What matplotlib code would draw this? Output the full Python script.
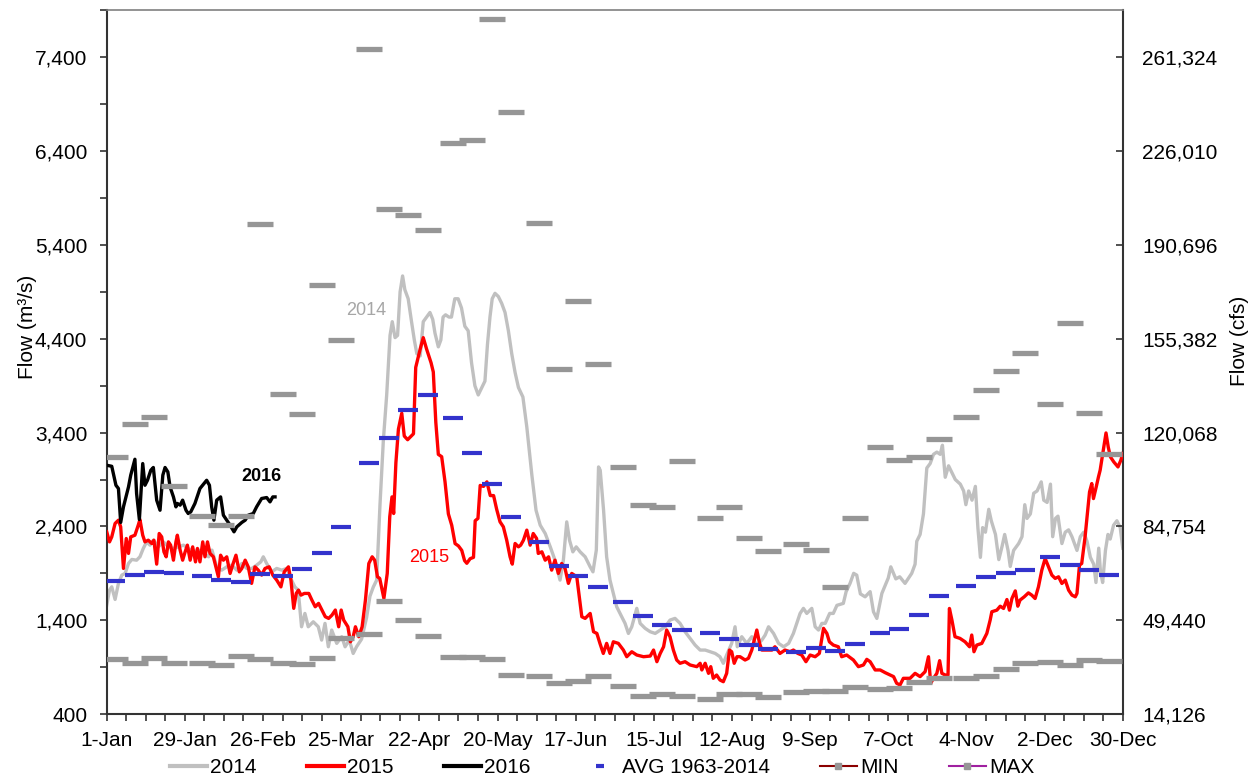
import matplotlib
matplotlib.use("Agg")
import matplotlib.pyplot as plt
from matplotlib.lines import Line2D
from matplotlib.ticker import FixedLocator, FuncFormatter

plt.rcParams['font.family'] = ['Liberation Sans', 'DejaVu Sans']

# day of year (0 = 1-Jan) and daily flow in m3/s
days_2014 = [0, 1, 1.8, 3, 4.2, 5.4, 6.6, 7.8, 9, 10.7, 11.9, 13.1, 14.3, 15.5, 16.7, 18.5, 20.3, 22.1,
             23.9, 25.7, 27.5, 29.3, 31.1, 32.9, 34.7, 36.5, 37.7, 39.4, 41.2, 43, 44.8, 46.6, 48.4,
             50.2, 52, 53.7, 55.2, 56.1, 57.3, 59.1, 60.9, 62.7, 64.5, 66.2, 67.4, 68.6, 69.8, 71,
             72.2, 74, 75.8, 77, 78.2, 79.4, 80.6, 82.4, 84.2, 85.4, 86.9, 88.3, 89.5, 91.3, 93.1,
             94.3, 95.5, 96.7, 97.9, 99.1, 100.3, 101.5, 102.3, 103.3, 104.2, 105.1, 106, 106.8, 108,
             109.2, 110.2, 111.1, 112.3, 113.4, 114.6, 115.8, 116.8, 117.6, 118.8, 119.7, 120.5,
             121.4, 122.6, 123.5, 124.7, 125.9, 127.1, 128.3, 129.5, 130.7, 131.9, 133.1, 134.3,
             135.5, 136.4, 137.3, 138.1, 139.1, 140.3, 141.5, 142.7, 143.9, 145.1, 146.3, 147.5,
             149.1, 150.5, 152.3, 153.8, 155.3, 157.1, 158.9, 160.6, 161.8, 162.4, 163.6, 164.8,
             165.8, 167, 168.2, 169.6, 171.4, 173.2, 174.2, 175.4, 176.2, 176.8, 178, 179.1, 180.3,
             181.5, 182.7, 183.9, 185.7, 186.9, 188.1, 189.9, 191.1, 192.9, 194.7, 196.5, 198.3,
             200.1, 201.8, 203.6, 205.4, 207.2, 209, 210.8, 212.6, 214.4, 216.2, 218, 219.7, 220.9,
             222.1, 223.9, 225.1, 225.9, 227.5, 229.3, 231.1, 232.9, 234.7, 235.9, 237.1, 238.9,
             240.7, 242.5, 244.3, 246, 247.2, 248.4, 249.6, 250.8, 252.6, 253.8, 255, 256.2, 257.4,
             259, 260.3, 261.6, 263.9, 264.9, 266.3, 267.6, 268.7, 270, 271.7, 273.5, 274.7, 275.9,
             277.7, 280, 280.9, 282.7, 284.1, 286, 288.4, 289.6, 290.2, 291.4, 292.6, 293.8, 295,
             296.2, 297.4, 298.6, 299.4, 300.4, 301.6, 302.8, 304, 305.8, 307, 307.8, 308.8, 310,
             311.2, 312.1, 313, 313.8, 314.8, 316, 316.9, 318.4, 319.6, 320.8, 321.7, 322.9, 323.7,
             324.9, 326.7, 327.9, 328.9, 329.7, 330.9, 332.1, 333.3, 334.8, 335.7, 336.9, 338.1,
             338.9, 339.9, 340.8, 342.2, 343.4, 344.6, 345.8, 347.6, 348.8, 350, 351.2, 352.4,
             353.6, 354.4, 355.4, 356, 356.8, 357.8, 358.7, 359.5, 360.7, 361.9, 363.1, 364]
flow_2014 = [1563, 1722, 1757, 1623, 1794, 1882, 1900, 2006, 2049, 2041, 2077, 2166, 2236, 2201, 2254,
             2183, 2236, 2183, 2166, 2183, 2201, 2166, 2130, 2148, 2113, 2077, 2148, 1970, 1935, 1970,
             1988, 1935, 2006, 1953, 1953, 1988, 2023, 2077, 2006, 1917, 1953, 1935, 1953, 1829, 1757,
             1722, 1332, 1474, 1332, 1385, 1332, 1190, 1368, 1119, 1297, 1155, 1226, 1119, 1190, 1048,
             1119, 1200, 1430, 1657, 1755, 1828, 2632, 3314, 3801, 4435, 4581, 4411, 4435, 4898, 5068,
             4922, 4825, 4581, 4386, 4240, 4216, 4581, 4630, 4679, 4605, 4459, 4313, 4386, 4630, 4654,
             4630, 4630, 4825, 4825, 4727, 4532, 4484, 4143, 3899, 3801, 3874, 3948, 4337, 4630, 4825,
             4883, 4849, 4776, 4679, 4484, 4240, 4040, 3880, 3779, 3459, 2950, 2573, 2414, 2325, 2183,
             2041, 1900, 1829, 2041, 2449, 2254, 2130, 2183, 2130, 2077, 1970, 1917, 2148, 3034, 2999,
             2573, 2077, 1829, 1687, 1545, 1474, 1368, 1261, 1332, 1528, 1368, 1315, 1279, 1261, 1297,
             1332, 1403, 1421, 1368, 1279, 1208, 1137, 1084, 1084, 1066, 1048, 1013, 943, 1031, 1155,
             1332, 1119, 1226, 1155, 1226, 1137, 1190, 1244, 1332, 1261, 1155, 1119, 1155, 1261, 1368,
             1474, 1528, 1474, 1528, 1332, 1297, 1368, 1368, 1474, 1474, 1560, 1581, 1706, 1794, 1901,
             1882, 1682, 1651, 1706, 1491, 1421, 1687, 1852, 1970, 1842, 1864, 1794, 1901, 1998, 2242,
             2315, 2534, 3022, 3070, 3168, 3192, 3168, 3265, 2924, 3046, 2973, 2900, 2851, 2778, 2632,
             2778, 2680, 2827, 2388, 2071, 2388, 2339, 2583, 2461, 2315, 2047, 2193, 2315, 2145, 1974,
             2145, 2218, 2291, 2632, 2486, 2534, 2754, 2778, 2875, 2680, 2656, 2851, 2291, 2486, 2510,
             2218, 2339, 2364, 2291, 2145, 2291, 2339, 2242, 2071, 1998, 1803, 2169, 1925, 1803, 2145,
             2315, 2266, 2413, 2461, 2388, 2169]

days_2015 = [0, 1, 1.8, 3, 4.2, 5, 6, 7, 7.8, 8.6, 10.1, 11.3, 11.9, 12.9, 13.7, 14.9, 16.1, 16.9, 17.9,
             18.8, 19.7, 20.5, 21.3, 22.1, 22.9, 23.9, 24.8, 25.3, 26.3, 27.2, 28.1, 28.9, 29.9, 30.8,
             31.8, 32.5, 33.4, 34.4, 35.2, 36.1, 37, 38.2, 40, 40.8, 41.8, 43, 44.2, 45.1, 46.3, 47.5,
             48.4, 49.6, 50.7, 51.9, 53.1, 54.3, 55.5, 56.7, 58.2, 59.5, 60.9, 62.4, 63.6, 65.1, 66,
             67, 67.9, 68.7, 69.6, 70.8, 72.4, 73.5, 74.7, 75.9, 77.1, 78.3, 79.5, 80.7, 81.9, 83.1,
             84, 84.9, 86.4, 87.3, 88.3, 89.1, 90.3, 91.5, 92.7, 93.9, 95.1, 96, 97, 97.8, 98.7, 99.3,
             100.5, 101.4, 102.2, 102.8, 103.6, 104.5, 105.7, 106.6, 107.8, 109.9, 110.7, 112.3,
             113.4, 114.6, 116.2, 117, 117.9, 118.8, 120, 121.2, 122.4, 123.6, 124.8, 126, 127.2,
             128.2, 129, 130.2, 131.4, 132, 133, 133.8, 135, 136.2, 137.4, 138.6, 139.7, 140.9,
             142.1, 143.3, 144.5, 145.3, 146.3, 147.5, 148.3, 149.3, 150.5, 151.7, 152.8, 154,
             154.6, 155.9, 157.1, 158.3, 159.4, 160.6, 161.8, 163, 164.2, 165.4, 166.6, 168.4,
             170.2, 171.4, 173.2, 174.4, 175.6, 176.7, 177.9, 179.1, 180.3, 181.5, 183.3, 185.1,
             186.3, 188.1, 189.9, 192.3, 194.7, 195.9, 197.1, 198.3, 199.5, 200.6, 201.8, 203,
             204.2, 205.4, 207.2, 209, 211.4, 212.6, 213.2, 214.4, 215.6, 216.4, 217.3, 218.5,
             219.7, 220.9, 222.1, 223.1, 223.9, 224.8, 225.8, 226.9, 228.7, 229.9, 231.1, 232.9,
             233.9, 234.7, 236.5, 238.3, 239.4, 241.2, 243, 244.8, 246, 247.6, 249, 250.5, 252,
             253.8, 255.3, 256.8, 258, 258.9, 260.3, 262.1, 263.3, 265.1, 267.5, 269.3, 271.1,
             272.3, 273.5, 275.3, 277.1, 278.9, 280.7, 281.9, 283, 284.2, 285.4, 287.8, 289.6,
             291.4, 293.2, 294.4, 295.2, 296.2, 297.4, 298.4, 299.2, 300.4, 301.4, 301.9, 302.8,
             303.9, 305.7, 307.5, 309.1, 309.9, 310.7, 311.7, 313.5, 315.3, 316.5, 317.1, 318.9,
             320.1, 321.3, 322.5, 323.4, 324.3, 325.5, 326.4, 327.2, 328.7, 330.2, 331.4, 332.6,
             333.8, 335, 336.2, 337.4, 338.6, 339.8, 341, 342.2, 343.4, 344.6, 345.8, 347, 347.6,
             348.5, 349.3, 350.5, 352.1, 352.9, 353.5, 354.5, 355.3, 355.9, 357.1, 358, 358.8,
             359.6, 360.8, 362.3, 363.3, 364]
flow_2015 = [2343, 2236, 2289, 2432, 2467, 2396, 1953, 2272, 2113, 2289, 2307, 2414, 2474, 2307, 2236,
             2254, 2219, 2254, 1999, 2325, 2289, 2130, 2077, 2236, 2201, 2041, 2236, 2307, 2148, 2041,
             2130, 2201, 2041, 2183, 2023, 2166, 2023, 2236, 2077, 2236, 2113, 2077, 1864, 2094, 2041,
             2077, 1900, 1988, 2094, 1917, 1953, 2041, 1970, 1794, 1970, 1935, 1882, 1953, 1970, 1882,
             1829, 1757, 1917, 1970, 1829, 1528, 1687, 1722, 1669, 1687, 1687, 1616, 1545, 1581, 1510,
             1439, 1421, 1456, 1510, 1332, 1510, 1403, 1332, 1172, 1226, 1332, 1226, 1332, 1620, 2006,
             2077, 2041, 1864, 1847, 1722, 1634, 1900, 2502, 2715, 2538, 3080, 3436, 3606, 3363, 3324,
             3387, 4094, 4289, 4411, 4289, 4143, 4045, 3509, 3168, 3143, 2875, 2534, 2413, 2218, 2193,
             2145, 2037, 2008, 2057, 2071, 2461, 2486, 2837, 2827, 2875, 2729, 2729, 2583, 2450, 2396,
             2254, 2077, 1999, 2219, 2183, 2201, 2254, 2361, 2201, 2325, 2272, 2113, 2130, 2041, 2077,
             1935, 2041, 1900, 2006, 1953, 1794, 1900, 1864, 1439, 1421, 1474, 1279, 1261, 1155, 1048,
             1155, 1048, 1172, 1155, 1084, 1013, 1066, 1031, 1013, 1020, 1084, 960, 1048, 1119, 1297,
             1226, 1084, 978, 943, 960, 925, 907, 943, 872, 943, 836, 907, 783, 818, 765, 747, 836,
             1084, 1066, 943, 1013, 1013, 978, 996, 1084, 1297, 1155, 1084, 1084, 1084, 1119, 1048,
             1084, 1066, 1084, 1048, 1031, 960, 1031, 1013, 1048, 1315, 1261, 1172, 1137, 1119, 1013,
             1031, 978, 907, 925, 985, 960, 872, 872, 843, 818, 801, 730, 712, 783, 783, 836, 801, 854,
             1013, 730, 783, 836, 971, 836, 818, 818, 1527, 1403, 1226, 1208, 1172, 1119, 1244, 1066,
             1137, 1155, 1261, 1403, 1492, 1509, 1551, 1527, 1622, 1509, 1633, 1714, 1551, 1616, 1651,
             1693, 1669, 1633, 1757, 1935, 2059, 1970, 1882, 1847, 1864, 1793, 1829, 1722, 1669, 1651,
             1687, 1988, 2006, 2289, 2768, 2857, 2697, 2822, 2928, 2999, 3229, 3396, 3246, 3140, 3087,
             3034, 3105, 3176]

days_2016 = [0, 1.8, 3.3, 4.2, 5, 6, 7.8, 8.6, 10.1, 10.7, 11.7, 12.9, 13.7, 14.6, 15.8, 16.7, 17.9,
             19.1, 20.1, 20.9, 21.9, 22.7, 23.9, 24.8, 25.3, 26.3, 27.2, 28.4, 29.2, 30.1, 31.6, 33.4,
             35.8, 36.8, 37.6, 38.4, 39.4, 40.8, 41.8, 43, 44.2, 45.6, 46.6, 48.4, 49.6, 50.7, 52.5,
             53.7, 55.5, 57.3, 58.5, 59.5, 60.3]
flow_2016 = [3052, 3041, 2839, 2804, 2443, 2609, 2821, 2946, 3116, 2751, 2474, 3070, 2839, 2892, 2999,
             3028, 2680, 2573, 2946, 3028, 2981, 2821, 2715, 2609, 2645, 2627, 2680, 2573, 2538, 2555,
             2645, 2804, 2892, 2839, 2609, 2467, 2680, 2715, 2520, 2467, 2414, 2343, 2396, 2443, 2467,
             2520, 2538, 2609, 2698, 2708, 2662, 2715, 2715]

# quarter-month statistics 1963-2014 (4 per month)
avg_flow = [1818, 1886, 1911, 1901, 1877, 1833, 1813, 1891, 1872, 1950, 2115, 2398,
            3080, 3338, 3645, 3801, 3553, 3178, 2856, 2500, 2237, 1979, 1872, 1760,
            1594, 1443, 1350, 1301, 1263, 1199, 1136, 1092, 1058, 1102, 1077, 1146,
            1263, 1311, 1457, 1657, 1764, 1857, 1901, 1940, 2071, 1989, 1935, 1881]
min_flow = [990, 946, 1004, 951, 946, 921, 1024, 990, 941, 931, 1004, 1209,
            1258, 1609, 1409, 1233, 1014, 1014, 985, 814, 804, 731, 756, 809,
            697, 590, 614, 590, 566, 614, 614, 585, 639, 653, 653, 692,
            673, 678, 741, 785, 785, 809, 882, 946, 960, 926, 980, 970]
max_flow = [3140, 3490, 3570, 2830, 2515, 2420, 2515, 5620, 3810, 3600, 4975, 4385,
            7490, 5785, 5715, 5560, 6480, 6520, 7800, 6815, 5630, 4075, 4800, 4135,
            3030, 2630, 2605, 3095, 2485, 2610, 2280, 2140, 2215, 2150, 1760, 2485,
            3250, 3105, 3140, 3330, 3565, 3855, 4055, 4250, 3700, 4570, 3610, 3170]

month_start = [0, 31, 60, 91, 121, 152, 182, 213, 244, 274, 305, 335]
quarter_days = [m + q for m in month_start for q in (3, 10, 17, 24)]

tick_labels = ['1-Jan', '29-Jan', '26-Feb', '25-Mar', '22-Apr', '20-May', '17-Jun',
               '15-Jul', '12-Aug', '9-Sep', '7-Oct', '4-Nov', '2-Dec', '30-Dec']
CFS = 35.314

fig = plt.figure(figsize=(12.57, 7.82), dpi=100)
ax = fig.add_axes([0.0849, 0.0866, 0.8083, 0.9006])

ax.plot(days_2014, flow_2014, color='#C0C0C0', lw=2.4, solid_joinstyle='round', zorder=2)
ax.plot(days_2015, flow_2015, color='#FF0000', lw=2.4, solid_joinstyle='round', zorder=3)
ax.plot(days_2016, flow_2016, color='black', lw=2.4, solid_joinstyle='round', zorder=4)
ax.plot(quarter_days, avg_flow, ls='none', marker='_', ms=14, mew=3.0, color='#3333CC', zorder=5)
ax.plot(quarter_days, min_flow, ls='none', marker='_', ms=19.2, mew=3.8, color='#969696', zorder=6)
ax.plot(quarter_days, max_flow, ls='none', marker='_', ms=19.2, mew=3.8, color='#969696', zorder=6)

ax.text(93, 4704, '2014', color='#A6A6A6', fontsize=13, ha='center', va='center')
ax.text(115.5, 2065, '2015', color='#FF0000', fontsize=13, ha='center', va='center')
ax.text(55.5, 2928, '2016', color='black', fontsize=13, fontweight='bold', ha='center', va='center')

ax.set_xlim(0, 364)
ax.set_ylim(400, 7900)
ax.xaxis.set_major_locator(FixedLocator(range(0, 365, 28)))
ax.xaxis.set_minor_locator(FixedLocator(range(0, 365, 7)))
ax.set_xticklabels(tick_labels)
ax.yaxis.set_major_locator(FixedLocator(range(400, 7401, 1000)))
ax.yaxis.set_minor_locator(FixedLocator(range(900, 7901, 1000)))
ax.yaxis.set_major_formatter(FuncFormatter(lambda v, p: f'{int(v):,}'))
ax.tick_params(axis='both', which='both', direction='out', length=5, width=1.2, color='#333333')
ax.tick_params(axis='both', which='major', labelsize=15)
ax.tick_params(axis='x', pad=7)
ax.tick_params(axis='y', pad=9)
ax.set_ylabel('Flow (m³/s)', fontsize=15)
ax.yaxis.set_label_coords(-0.069, 0.55)

for side in ['left', 'bottom', 'right']:
    ax.spines[side].set_color('#333333')
    ax.spines[side].set_linewidth(1.5)
ax.spines['top'].set_color('#808080')
ax.spines['top'].set_linewidth(1.2)

ax2 = ax.twinx()
ax2.set_ylim(400 * CFS, 7900 * CFS)
cfs_ticks = [14126 + 35314 * k for k in range(8)]
ax2.yaxis.set_major_locator(FixedLocator(cfs_ticks))
ax2.yaxis.set_major_formatter(FuncFormatter(lambda v, p: f'{int(round(v)):,}'))
ax2.tick_params(axis='y', direction='in', length=5, width=1.2, color='#333333', labelsize=15, pad=14)
ax2.set_ylabel('Flow (cfs)', fontsize=15)
ax2.yaxis.set_label_coords(1.106, 0.53)
for s in ax2.spines.values():
    s.set_visible(False)

handles = [
    Line2D([], [], color='#C0C0C0', lw=3),
    Line2D([], [], color='#FF0000', lw=3),
    Line2D([], [], color='black', lw=3),
    Line2D([], [], ls='none', marker='_', ms=6, mew=3, color='#3333CC'),
    Line2D([], [], color='#8B0000', lw=1.5, marker='s', ms=4.5, mfc='#969696', mec='#969696'),
    Line2D([], [], color='#A020A0', lw=1.5, marker='s', ms=4.5, mfc='#969696', mec='#969696'),
]
labels = ['2014', '2015', '2016', 'AVG 1963-2014', 'MIN', 'MAX']
fig.legend(handles, labels, loc='center', bbox_to_anchor=(0.479, 0.018), ncol=6, frameon=False,
           fontsize=15, handlelength=1.8, handletextpad=0.15, columnspacing=2.4)

fig.savefig('out.png', dpi=100)
